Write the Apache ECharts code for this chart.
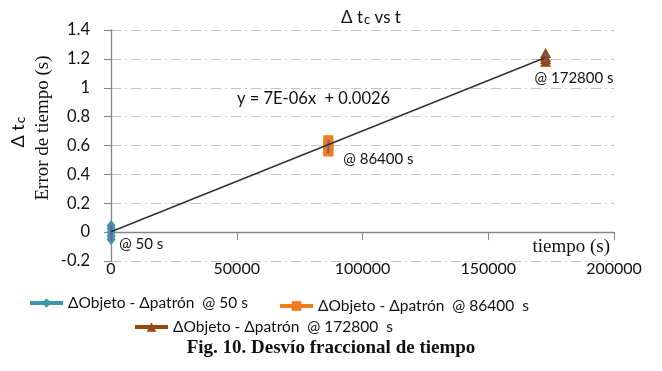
<!DOCTYPE html>
<html><head><meta charset="utf-8">
<script src="https://cdn.jsdelivr.net/npm/echarts@6/dist/echarts.min.js"></script>
<style>html,body{margin:0;padding:0;background:#fff}#c{width:662px;height:371px}</style>
</head><body><div id="c"></div>
<script>
// ---- data ----
const xTicks = [0, 50000, 100000, 150000, 200000];
const yTicks = [-0.2, 0, 0.2, 0.4, 0.6, 0.8, 1, 1.2, 1.4];
const seriesNames = ['ΔObjeto - Δpatrón  @ 50 s', 'ΔObjeto - Δpatrón  @ 86400  s', 'ΔObjeto - Δpatrón  @ 172800  s'];
const pointLabels = ['@ 50 s', '@ 86400 s', '@ 172800 s'];
const t50 = 50, t86400 = 86400, t172800 = 172800;
const vals50 = [-0.05, -0.025, 0, 0.025, 0.045];
const vals86400 = [0.555, 0.575, 0.595, 0.615, 0.64];
const vals172800 = [1.18, 1.2, 1.215, 1.24];
const errBar50 = [-0.06, 0.05];
const errBar86400 = [0.55, 0.64];
const errBar172800 = [1.18, 1.24];
const trendX = [0, 172800];
const trendY = [0.0026, 1.21];
const trendText = 'y = 7E-06x  + 0.0026';
const caption = 'Fig. 10. Desvío fraccional de tiempo';

const sans = 'Lato';
const serif = 'Liberation Serif';
const cTeal = '#3f95ad', cOrange = '#f07c1c', cBrown = '#9a4810', cPurple = '#7b5aa0';

function pts(x, arr, labelIdx, label, off) {
  return arr.map((v, i) => {
    const d = { value: [x, v] };
    if (i === labelIdx) d.label = { show: true, formatter: label, position: 'inside', align: 'left', verticalAlign: 'middle', offset: off, color: '#111', fontFamily: sans, fontSize: 15 };
    return d;
  });
}
function bar(x, r) { return r.map(v => [x, v]); }
const legendText = { fontFamily: sans, fontSize: 15.5, color: '#111' };
const legendLine = { width: 4 };

const chart = echarts.init(document.getElementById('c'));
chart.setOption({
  animation: false,
  backgroundColor: '#fff',
  title: {
    left: 336, top: 2,
    text: '{a|Δ t}{s|c}{a| vs t}',
    textStyle: { fontWeight: 'normal', rich: {
      a: { fontFamily: sans, fontSize: 17, fontWeight: 'normal', color: '#111', verticalAlign: 'bottom' },
      s: { fontFamily: sans, fontSize: 13, fontWeight: 'normal', color: '#111', padding: [6, 0, 0, 1], verticalAlign: 'bottom' }
    } }
  },
  grid: { left: 111, right: 48, top: 30, bottom: 110 },
  xAxis: {
    type: 'value', min: xTicks[0], max: xTicks[xTicks.length - 1], interval: 50000,
    axisLine: { onZero: true, lineStyle: { color: '#868686', width: 1.3 } },
    axisTick: { show: true, length: 8, lineStyle: { color: '#868686' } },
    axisLabel: { margin: 0, fontFamily: sans, fontSize: 16, color: '#111', formatter: v => String(v) },
    splitLine: { show: false },
    name: 'tiempo (s)', nameLocation: 'end', nameGap: -4,
    nameTextStyle: { fontFamily: serif, fontSize: 19, color: '#111', align: 'right', verticalAlign: 'top', padding: [5, 0, 0, 0] }
  },
  yAxis: {
    type: 'value', min: yTicks[0], max: yTicks[yTicks.length - 1], interval: 0.2,
    axisLine: { show: true, onZero: false, lineStyle: { color: '#868686', width: 1.3 } },
    axisTick: { show: true, length: 7, lineStyle: { color: '#868686' } },
    axisLabel: { margin: 21, fontFamily: sans, fontSize: 16.5, color: '#111' },
    splitLine: { show: true, lineStyle: { color: '#c4c4c4', width: 1.2, type: [10, 4, 2, 4] } }
  },
  legend: [
    { left: 28, top: 295, padding: 0, itemWidth: 33, itemHeight: 12, lineStyle: legendLine, data: [seriesNames[0]], textStyle: legendText },
    { left: 278, top: 298, padding: 0, itemWidth: 33, itemHeight: 12, lineStyle: legendLine, data: [seriesNames[1]], textStyle: legendText },
    { left: 133, top: 319, padding: 0, itemWidth: 33, itemHeight: 12, lineStyle: legendLine, data: [seriesNames[2]], textStyle: legendText }
  ],
  series: [
    { name: 'trend', type: 'line', data: trendX.map((x, i) => [x, trendY[i]]), symbol: 'none', lineStyle: { color: '#333', width: 1.5 }, z: 5, silent: true },
    { name: seriesNames[0], type: 'line', data: pts(t50, vals50, 2, pointLabels[0], [8, 12]), symbol: 'diamond', symbolSize: [9, 12], itemStyle: { color: cTeal }, lineStyle: { color: cTeal, width: 4 }, z: 3 },
    { name: seriesNames[1], type: 'line', data: pts(t86400, vals86400, 2, pointLabels[1], [15, 13]), symbol: 'rect', symbolSize: [10, 9], itemStyle: { color: cOrange }, lineStyle: { color: cOrange, width: 4 }, z: 3 },
    { name: seriesNames[2], type: 'line', data: pts(t172800, vals172800, 2, pointLabels[2], [-11, 21]), symbol: 'triangle', symbolSize: [11, 10], itemStyle: { color: cBrown }, lineStyle: { color: cBrown, width: 4 }, z: 3 },
    { name: 'eb1', type: 'line', data: bar(t50, errBar50), symbol: 'none', lineStyle: { color: cPurple, width: 2 }, z: 4, silent: true },
    { name: 'eb2', type: 'line', data: bar(t86400, errBar86400), symbol: 'none', lineStyle: { color: cPurple, width: 2 }, z: 4, silent: true },
    { name: 'eb3', type: 'line', data: bar(t172800, errBar172800), symbol: 'none', lineStyle: { color: cPurple, width: 2 }, z: 4, silent: true }
  ],
  graphic: [
    { type: 'text', left: 237, top: 90, style: { text: trendText, fontFamily: sans, fontSize: 16.5, fill: '#111' } },
    { type: 'text', x: 43, y: 128, rotation: Math.PI / 2, style: { text: 'Error de tiempo (s)', fontFamily: serif, fontSize: 19, fill: '#111', align: 'center', verticalAlign: 'middle' } },
    { type: 'text', x: 17, y: 132, rotation: Math.PI / 2, style: { text: '{a|Δ t}{s|c}', align: 'center', verticalAlign: 'middle', rich: {
      a: { fontFamily: sans, fontSize: 18, fill: '#111', verticalAlign: 'bottom' },
      s: { fontFamily: sans, fontSize: 14, fill: '#111', padding: [7, 0, 0, 1], verticalAlign: 'bottom' } } } },
    { type: 'text', left: 'center', top: 339, style: { text: caption, fontFamily: serif, fontSize: 19, fontWeight: 'bold', fill: '#111' } }
  ]
});
</script></body></html>
